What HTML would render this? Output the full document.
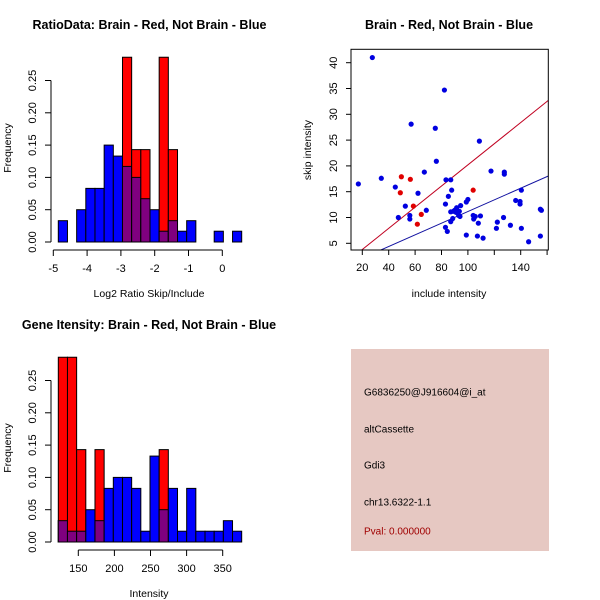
<!DOCTYPE html>
<html><head><meta charset="utf-8"><style>
html,body{margin:0;padding:0;background:#fff}
svg{display:block;font-family:"Liberation Sans",sans-serif}
</style></head><body>
<svg id="s" width="600" height="600" viewBox="0 0 600 600">
<rect width="600" height="600" fill="#fff"/>
</svg>
<script>
// ---- Ratio histogram data ----
const ratioBinStart = -4.852, ratioBinWidth = 0.2713;
const ratioBlue = [0.033,0,0.05,0.083,0.083,0.15,0.133,0.117,0.1,0.067,0.05,0.0167,0.033,0.0167,0.033,0,0,0.0167,0,0.0167];
const ratioRed  = [0,0,0,0,0,0,0,0.286,0.143,0.143,0,0.286,0.143,0,0,0,0,0,0,0];
const ratioXTicks = [-5,-4,-3,-2,-1,0];
const freqTicks = [0,0.05,0.10,0.15,0.20,0.25];
const freqTickLabels = ["0.00","0.05","0.10","0.15","0.20","0.25"];
// ---- Intensity histogram data ----
const intBinStart = 122.3, intBinWidth = 12.7;
const intBlue = [0.033,0.0167,0.0167,0.05,0.033,0.083,0.1,0.1,0.083,0.0167,0.133,0.05,0.083,0.0167,0.083,0.0167,0.0167,0.0167,0.033,0.0167];
const intRed  = [0.286,0.286,0.143,0,0.143,0,0,0,0,0,0,0.143,0,0,0,0,0,0,0,0];
const intXTicks = [150,200,250,300,350];
// ---- Scatter data ----
const blueX = [17,27.6,34.4,45,47.3,52.6,56,56,57,62.2,67,68.5,75.3,76.1,82.2,83,83.4,87,85.2,83,84.4,87.7,87,87,88.5,90,91.5,91,93,93.5,94.5,94,89,98.8,100,98.8,104,104.4,105.6,107.9,107.2,109.5,111.5,108.7,117.5,127.6,127.6,121.6,122.3,127,132.2,136.2,139.5,139.5,140.5,140.5,146,154.9,155.7,154.9];
const blueY = [16.5,41,17.6,15.9,10,12.2,9.7,10.4,28.1,14.7,18.8,11.4,27.3,20.9,34.7,12.6,17.3,17.3,14.1,8.1,7.3,15.3,11.1,9.2,9.8,11.4,11.9,11,10.4,11.2,12.3,10.2,11.2,13,13.5,6.6,10.4,9.7,10.2,8.9,6.4,10.3,6,24.8,19,18.8,18.4,7.9,9.1,10,8.5,13.3,13.1,12.6,15.3,7.9,5.3,11.6,11.4,6.4];
const redX = [49.6,48.8,56.4,58.7,61.7,64.7,104];
const redY = [17.9,14.8,17.4,12.2,8.7,10.6,15.3];
const redLine = [0.205,-0.3];   // slope, intercept
const blueLine = [0.113,-0.14];
const scatXTicks = [20,40,60,80,100,120,140,160];
const scatXLabels = ["20","40","60","80","100","","140",""];
const scatYTicks = [5,10,15,20,25,30,35,40];
// ---- Info text ----
const infoLines = ["G6836250@J916604@i_at","altCassette","Gdi3","chr13.6322-1.1"];

const S = document.getElementById('s');
const NS = 'http://www.w3.org/2000/svg';
function mk(tag, attrs, parent, text){
  const e = document.createElementNS(NS, tag);
  for (const k in attrs) e.setAttribute(k, attrs[k]);
  if (text !== undefined) e.textContent = text;
  (parent || S).appendChild(e);
  return e;
}
function txt(x,y,s,opt,parent){
  opt = opt||{};
  const e = mk('text',{x:x,y:y,'font-size':opt.size||11,'text-anchor':opt.anchor||'middle','fill':opt.fill||'#000','font-weight':opt.bold?'bold':'normal','dominant-baseline':'central'},parent,s);
  if (opt.rot) e.setAttribute('transform','rotate(-90 '+x+' '+y+')');
  return e;
}

function hist(g, binStart, binW, blue, red, xs, ys){
  for (let i=0;i<blue.length;i++){
    const x0 = xs(binStart+i*binW), x1 = xs(binStart+(i+1)*binW);
    const b = blue[i], r = red[i];
    if (b>0){
      const e = mk('rect',{x:x0,y:ys(b),width:x1-x0,height:ys(0)-ys(b),fill:'#0000ff',stroke:'#000','stroke-width':1},g);
      
      
    }
    if (r>0){
      const e = mk('rect',{x:x0,y:ys(r),width:x1-x0,height:ys(0)-ys(r),fill:'#ff0000',stroke:'#000','stroke-width':1},g);
      
      
      const m = Math.min(b,r);
      if (m>0){
        const p = mk('rect',{x:x0,y:ys(m),width:x1-x0,height:ys(0)-ys(m),fill:'#7f007f',stroke:'#000','stroke-width':1},g);
        
        
      }
    }
  }
}
function yFreqAxis(g, ys, ax){
  mk('line',{x1:ax,y1:ys(0),x2:ax,y2:ys(0.25),stroke:'#000'},g);
  freqTicks.forEach((t,i)=>{
    mk('line',{x1:ax,y1:ys(t),x2:ax-6,y2:ys(t),stroke:'#000'},g);
    txt(ax-18,ys(t),freqTickLabels[i],{rot:true},g);
  });
}

// ---- Panel 1 ----
{
  const g = mk('g',{});  
  const xs = v => 53.3 + (v+5)*33.8;
  const ys = v => 242 - v/0.05*32.3;
  hist(g, ratioBinStart, ratioBinWidth, ratioBlue, ratioRed, xs, ys);
  yFreqAxis(g, ys, 51);
  const ay = 250;
  mk('line',{x1:xs(ratioXTicks[0]),y1:ay,x2:xs(ratioXTicks[ratioXTicks.length-1]),y2:ay,stroke:'#000'},g);
  ratioXTicks.forEach(t=>{ mk('line',{x1:xs(t),y1:ay,x2:xs(t),y2:ay+6,stroke:'#000'},g); txt(xs(t),ay+19,String(t),{},g); });
  const t = txt(149.5,25,'RatioData: Brain - Red, Not Brain - Blue',{bold:true,size:12.5},g);  
  const xl = txt(149,294,'Log2 Ratio Skip/Include',{size:10.5},g);  
  const yl = txt(8,148,'Frequency',{rot:true,size:10.5},g);  
}

// ---- Panel 2 scatter ----
{
  const g = mk('g',{});  
  const xs = v => 362.3 + (v-20)*1.32;
  const ys = v => 243.3 - (v-5)*5.16;
  const L=351,R=548.3,T=49.3,B=250;
  const clip = mk('clipPath',{id:'cp'},g); mk('rect',{x:L,y:T,width:R-L,height:B-T},clip);
  const pg = mk('g',{'clip-path':'url(#cp)'},g);
  const lineXs=[10,200];
  const rl = mk('line',{x1:xs(lineXs[0]),y1:ys(redLine[0]*lineXs[0]+redLine[1]),x2:xs(lineXs[1]),y2:ys(redLine[0]*lineXs[1]+redLine[1]),stroke:'#c00020','stroke-width':1},pg);
   
  const bl = mk('line',{x1:xs(lineXs[0]),y1:ys(blueLine[0]*lineXs[0]+blueLine[1]),x2:xs(lineXs[1]),y2:ys(blueLine[0]*lineXs[1]+blueLine[1]),stroke:'#1010a0','stroke-width':1},pg);
   
  blueX.forEach((x,i)=>{ const c=mk('circle',{cx:xs(x),cy:ys(blueY[i]),r:2.6,fill:'#0000e0'},pg);
      });
  redX.forEach((x,i)=>{ const c=mk('circle',{cx:xs(x),cy:ys(redY[i]),r:2.6,fill:'#e00000'},pg);
      });
  mk('rect',{x:L,y:T,width:R-L,height:B-T,fill:'none',stroke:'#000'},g);
  scatXTicks.forEach((t,i)=>{ mk('line',{x1:xs(t),y1:B,x2:xs(t),y2:B+5,stroke:'#000'},g); if(scatXLabels[i]) txt(xs(t),B+18,scatXLabels[i],{},g); });
  scatYTicks.forEach(t=>{ mk('line',{x1:L,y1:ys(t),x2:L-5,y2:ys(t),stroke:'#000'},g); txt(L-17,ys(t),String(t),{rot:true},g); });
  const t = txt(449,25,'Brain - Red, Not Brain - Blue',{bold:true,size:12.5},g);  
  const xl = txt(449,294,'include intensity',{size:10.5},g);  
  const yl = txt(308,150,'skip intensity',{rot:true,size:10.5},g);  
}

// ---- Panel 3 ----
{
  const g = mk('g',{});  
  const xs = v => 78.3 + (v-150)*0.722;
  const ys = v => 542 - v/0.05*32.3;
  hist(g, intBinStart, intBinWidth, intBlue, intRed, xs, ys);
  yFreqAxis(g, ys, 51);
  const ay = 550;
  mk('line',{x1:xs(intXTicks[0]),y1:ay,x2:xs(intXTicks[intXTicks.length-1]),y2:ay,stroke:'#000'},g);
  intXTicks.forEach(t=>{ mk('line',{x1:xs(t),y1:ay,x2:xs(t),y2:ay+6,stroke:'#000'},g); txt(xs(t),ay+19,String(t),{},g); });
  const t = txt(149,325,'Gene Itensity: Brain - Red, Not Brain - Blue',{bold:true,size:12.5},g);  
  const xl = txt(149,594,'Intensity',{size:10.5},g);  
  const yl = txt(8,448,'Frequency',{rot:true,size:10.5},g);  
}

// ---- Info box ----
{
  const g = mk('g',{});  
  mk('rect',{x:351,y:349,width:198,height:202,fill:'#e6c8c2'},g);
  const ys=[393,430,466,503];
  infoLines.forEach((s,i)=>{ const e=txt(364,ys[i],s,{anchor:'start',size:10},g);
      });
  const p = txt(364,532,'Pval: 0.000000',{anchor:'start',size:10,fill:'#a00000'},g);
   
}
</script>
</body></html>
